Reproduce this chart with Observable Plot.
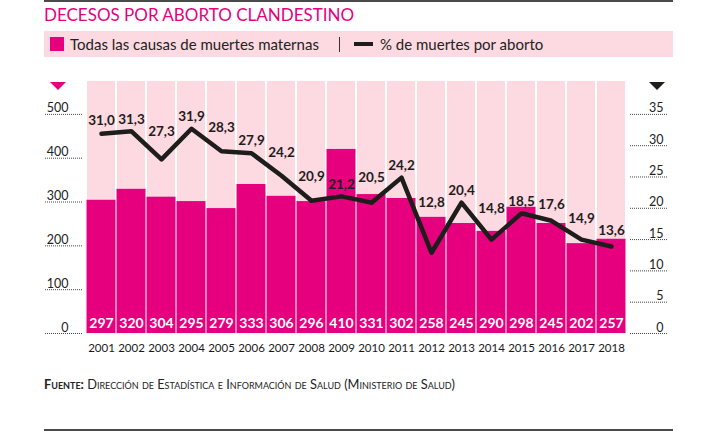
<!DOCTYPE html>
<html><head><meta charset="utf-8">
<script src="https://cdn.jsdelivr.net/npm/d3@7"></script>
<script src="https://cdn.jsdelivr.net/npm/@observablehq/plot@0.6"></script>
<style>
body{margin:0;background:#fff;}
#wrap{position:relative;width:706px;height:432px;overflow:hidden;font-family:Lato,"Open Sans",sans-serif;}
.rule{position:absolute;left:44px;width:629px;height:2px;background:#4a4a4a;}
#title{position:absolute;left:44px;top:4px;font-size:17px;color:#e6007e;white-space:nowrap;}
#legend{position:absolute;left:44px;top:31px;width:629px;height:26px;background:#fddae1;}
#legend .sw{position:absolute;left:6px;top:6px;width:14px;height:14px;background:#e6007e;}
#legend .t1{position:absolute;left:26px;top:4px;font-size:15px;color:#222;white-space:nowrap;}
#legend .sep{position:absolute;left:295px;top:6px;width:1px;height:15px;background:#333;}
#legend .ln{position:absolute;left:310px;top:11px;width:19px;height:4px;background:#1d1d1b;}
#legend .t2{position:absolute;left:336px;top:4px;font-size:15px;color:#222;white-space:nowrap;}
#chart{position:absolute;left:0;top:60px;}
.tri{position:absolute;width:0;height:0;border-left:8px solid transparent;border-right:8px solid transparent;border-top:8px solid;}
#footer{position:absolute;left:44px;top:376px;font-size:12.8px;color:#222;font-variant:small-caps;white-space:nowrap;}
</style></head>
<body><div id="wrap">
<div class="rule" style="top:0"></div>
<div id="title">DECESOS POR ABORTO CLANDESTINO</div>
<div id="legend"><div class="sw"></div><div class="t1">Todas las causas de muertes maternas</div><div class="sep"></div><div class="ln"></div><div class="t2">% de muertes por aborto</div></div>
<div class="tri" style="left:50px;top:82px;border-top-color:#e6007e"></div>
<div class="tri" style="left:649px;top:82px;border-top-color:#1d1d1b"></div>
<div id="chart"></div>
<div id="footer"><b>Fuente:</b> Dirección de Estadística e Información de Salud (Ministerio de Salud)</div>
<div class="rule" style="top:429px"></div>
</div>
<script>
const years = ["2001","2002","2003","2004","2005","2006","2007","2008","2009","2010","2011","2012","2013","2014","2015","2016","2017","2018"];
// bar heights as drawn in the picture
const maternalDeaths = [304,329,311,301,285,340,313,301,420,317,308,265,251,233,288,251,205,215];
// printed labels
const maternalLabels = ["297","320","304","295","279","333","306","296","410","331","302","258","245","290","298","245","202","257"];
// line values as drawn
const abortionPct = [31.9,32.3,27.8,32.7,29.1,28.8,25.2,21.2,21.9,20.9,24.9,12.9,20.9,15.0,19.2,18.0,15.0,13.9];
const abortionLabels = ["31,0","31,3","27,3","31,9","28,3","27,9","24,2","20,9","21,2","20,5","24,2","12,8","20,4","14,8","18,5","17,6","14,9","13,6"];
const leftTicks = [0,100,200,300,400,500];
const rightTicks = [0,5,10,15,20,25,30,35];

const k = 500/35;
const yMax = 575;
const rows = years.map((year,i)=>{
  const v = abortionPct[i];
  const prev = i>0 ? (v+abortionPct[i-1])/2 : v;
  const next = i<years.length-1 ? (v+abortionPct[i+1])/2 : v;
  return {year, deaths:maternalDeaths[i], deathsLabel:maternalLabels[i], pct:v*k, pctLabel:abortionLabels[i], labelY:Math.max(v,prev,next)*k, top:yMax};
});

const chart = Plot.plot({
  width:706, height:310,
  marginLeft:82, marginRight:77, marginTop:21, marginBottom:37,
  style:{fontFamily:"Lato, sans-serif", background:"transparent"},
  x:{domain:years, paddingInner:0, paddingOuter:0},
  y:{domain:[0,yMax]},
  marks:[
    Plot.barY(rows,{x:"year", y:"top", fill:"#fdd9e1", insetLeft:1, insetRight:1}),
    Plot.barY(rows,{x:"year", y:"deaths", fill:"#e6007e", insetLeft:0.5, insetRight:0.5}),
    Plot.axisY(leftTicks,{anchor:"left", tickSize:38, fill:"none", stroke:"#444", strokeDasharray:"1,1"}),
    Plot.axisY(leftTicks,{anchor:"left", tickSize:0, tickPadding:14, dy:-6, fill:"#222", fontSize:12.5, label:null}),
    Plot.axisY(rightTicks.map(t=>t*k),{anchor:"right", tickSize:38, fill:"none", stroke:"#444", strokeDasharray:"1,1"}),
    Plot.axisY(rightTicks.map(t=>t*k),{anchor:"right", tickSize:0, tickPadding:34, textAnchor:"end", dy:-6, fill:"#222", fontSize:12.5, tickFormat:d=>String(Math.round(d/k)), label:null}),
    Plot.axisX({tickSize:0, tickPadding:10, fontSize:11.5, fill:"#1a1a1a", label:null}),
    Plot.line(rows,{x:"year", y:"pct", stroke:"#1d1d1b", strokeWidth:4.5, strokeLinecap:"round"}),
    Plot.text(rows,{x:"year", y:"labelY", text:"pctLabel", dy:-12, fontWeight:"bold", fontSize:13.5, fill:"#1d1d1b"}),
    Plot.text(rows,{x:"year", y:()=>0, text:"deathsLabel", dy:-10, fontWeight:"bold", fontSize:14, fill:"white"})
  ]
});
document.getElementById("chart").appendChild(chart);
</script>
</body></html>
